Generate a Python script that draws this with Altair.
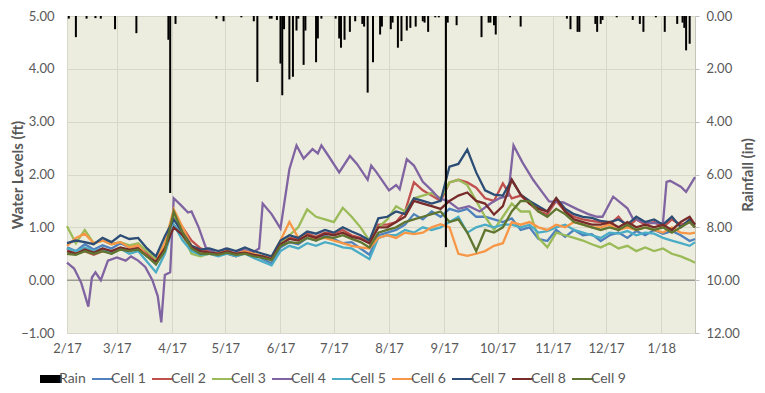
import altair as alt
import pandas as pd

START = pd.Timestamp("2017-02-01")

# day offsets from Feb 1, 2017 for the common sampling of cells
grid_days = list(range(0, 351, 5)) + [353]

cell1 = [0.62, 0.55, 0.68, 0.58, 0.66, 0.60, 0.70, 0.62, 0.65, 0.48, 0.30, 0.60,
         1.05, 0.85, 0.60, 0.50, 0.55, 0.50,
         0.55, 0.48, 0.56, 0.50, 0.40, 0.32,
         0.62, 0.72, 0.68, 0.80, 0.75, 0.85,
         0.78, 0.70, 0.72, 0.60, 0.48, 0.85,
         0.90, 0.95, 1.05, 1.25, 1.15, 1.30,
         1.20, 1.35, 1.30, 1.35, 1.20, 1.20,
         1.15, 1.10, 1.17, 0.95, 1.00, 0.78,
         0.74, 0.95, 0.82, 0.95, 0.85, 0.87,
         0.74, 0.85, 0.90, 0.80, 0.93, 0.85,
         0.95, 0.88, 0.93, 0.85, 0.74, 0.78]
cell2 = [0.60, 0.50, 0.55, 0.48, 0.55, 0.52, 0.60, 0.55, 0.62, 0.50, 0.40, 0.65,
         1.20, 1.00, 0.75, 0.60, 0.55, 0.50,
         0.50, 0.45, 0.52, 0.48, 0.45, 0.40,
         0.70, 0.80, 0.78, 0.88, 0.82, 0.90,
         0.88, 0.95, 0.85, 0.80, 0.70, 1.05,
         1.05, 1.10, 1.30, 1.85, 1.70, 1.60,
         1.50, 1.85, 1.90, 1.85, 1.75, 1.55,
         1.50, 1.83, 1.55, 1.60, 1.45, 1.30,
         1.25, 1.50, 1.30, 1.20, 1.15, 1.12,
         1.10, 1.05, 1.20, 1.00, 1.15, 1.05,
         1.10, 1.00, 1.15, 1.05, 1.10, 1.00]
cell3 = [1.02, 0.70, 0.95, 0.70, 0.75, 0.68, 0.72, 0.66, 0.70, 0.55, 0.40, 0.70,
         1.25, 0.85, 0.50, 0.45, 0.50, 0.48,
         0.52, 0.50, 0.55, 0.50, 0.45, 0.40,
         0.70, 0.85, 1.00, 1.34, 1.20, 1.15,
         1.10, 1.37, 1.20, 1.00, 0.75, 1.00,
         1.15, 1.40, 1.30, 1.55, 1.60, 1.65,
         1.55, 1.85, 1.90, 1.80, 1.50, 1.20,
         0.95, 1.20, 1.45, 1.30, 1.30, 0.80,
         0.62, 0.90, 0.85, 0.80, 0.75, 0.68,
         0.62, 0.70, 0.60, 0.65, 0.55, 0.62,
         0.55, 0.60, 0.50, 0.45, 0.38, 0.33]
cell5 = [0.60, 0.55, 0.62, 0.55, 0.60, 0.50, 0.60, 0.50, 0.55, 0.35, 0.15, 0.50,
         1.05, 0.75, 0.55, 0.48, 0.50, 0.45,
         0.50, 0.45, 0.50, 0.42, 0.35, 0.28,
         0.55, 0.65, 0.60, 0.70, 0.65, 0.72,
         0.68, 0.62, 0.60, 0.50, 0.40, 0.80,
         0.85, 0.85, 0.95, 0.90, 1.00, 0.95,
         1.00, 1.10, 1.20, 0.90, 1.00, 1.05,
         1.00, 1.05, 1.05, 1.00, 1.05, 0.90,
         0.93, 1.00, 1.05, 0.95, 0.90, 0.85,
         0.80, 0.90, 0.88, 0.93, 0.85, 0.90,
         0.88, 0.80, 0.75, 0.70, 0.65, 0.72]
cell6 = [0.65, 0.80, 0.88, 0.70, 0.75, 0.68, 0.72, 0.62, 0.66, 0.45, 0.35, 0.70,
         1.34, 1.00, 0.65, 0.55, 0.50, 0.52,
         0.55, 0.50, 0.55, 0.50, 0.45, 0.42,
         0.75, 1.10, 0.80, 0.85, 0.78, 0.80,
         0.75, 0.70, 0.65, 0.62, 0.60, 0.80,
         0.85, 0.80, 0.90, 0.87, 0.90, 1.00,
         1.06, 1.00, 0.50, 0.46, 0.50, 0.55,
         0.65, 0.70, 1.10, 1.05, 1.10, 1.00,
         0.95, 1.05, 1.00, 1.10, 1.05, 1.00,
         1.00, 1.05, 0.95, 1.00, 0.95, 1.00,
         0.95, 0.90, 1.00, 0.90, 0.88, 0.90]
cell7 = [0.70, 0.75, 0.72, 0.68, 0.80, 0.72, 0.85, 0.78, 0.80, 0.60, 0.45, 0.83,
         1.15, 0.90, 0.65, 0.58, 0.60, 0.55,
         0.60, 0.55, 0.62, 0.55, 0.50, 0.45,
         0.75, 0.85, 0.80, 0.92, 0.88, 0.95,
         0.90, 1.00, 0.92, 0.85, 0.75, 1.17,
         1.20, 1.30, 1.25, 1.55, 1.50, 1.45,
         1.50, 2.15, 2.20, 2.47, 2.04, 1.70,
         1.62, 1.60, 1.90, 1.62, 1.50, 1.40,
         1.30, 1.55, 1.35, 1.25, 1.20, 1.18,
         1.12, 1.10, 1.15, 1.05, 1.20, 1.10,
         1.15, 1.05, 1.20, 1.00, 1.15, 1.05]
cell8 = [0.55, 0.50, 0.58, 0.52, 0.60, 0.55, 0.62, 0.58, 0.60, 0.45, 0.35, 0.60,
         1.00, 0.85, 0.62, 0.55, 0.52, 0.50,
         0.55, 0.50, 0.52, 0.48, 0.45, 0.40,
         0.68, 0.78, 0.75, 0.85, 0.80, 0.88,
         0.85, 0.90, 0.82, 0.78, 0.70, 1.00,
         1.00, 1.10, 1.20, 1.50, 1.45, 1.40,
         1.35, 1.50, 1.60, 1.66, 1.50, 1.45,
         1.24, 1.40, 1.90, 1.62, 1.45, 1.35,
         1.30, 1.55, 1.30, 1.15, 1.10, 1.05,
         1.05, 1.10, 1.00, 1.10, 1.00, 1.05,
         1.00, 1.05, 0.95, 1.10, 1.20, 1.05]
cell9 = [0.50, 0.48, 0.55, 0.50, 0.55, 0.50, 0.58, 0.55, 0.58, 0.45, 0.30, 0.55,
         1.30, 0.90, 0.60, 0.50, 0.50, 0.48,
         0.52, 0.48, 0.50, 0.45, 0.42, 0.38,
         0.65, 0.72, 0.70, 0.80, 0.75, 0.82,
         0.80, 0.85, 0.78, 0.72, 0.62, 0.90,
         0.95, 1.00, 1.10, 1.15, 1.20, 1.25,
         1.30, 1.10, 1.15, 0.90, 0.55, 0.95,
         0.90, 1.00, 1.30, 1.50, 1.49, 1.30,
         1.20, 1.35, 1.25, 1.10, 1.05, 1.00,
         0.95, 1.00, 0.95, 1.05, 0.95, 1.00,
         0.95, 1.00, 0.90, 1.00, 1.10, 1.00]

# Cell 4 has sharper swings, sampled on its own days
cell4_days = [0, 4, 8, 12, 14, 16, 19, 23, 28, 33, 36, 40, 44, 48, 51, 53, 55, 58,
              60, 64, 68, 70, 74, 78, 84, 89, 94, 99, 104, 108, 110, 115, 120,
              125, 129, 133, 138, 141, 143, 147, 153, 159, 163, 169, 171, 174,
              181, 185, 187, 191, 195, 200, 205, 209, 214, 220, 226, 232, 238,
              243, 248, 251, 256, 262, 267, 271, 279, 287, 293, 298, 301, 307,
              315, 318, 324, 329, 335, 337, 339, 345, 348, 353]
cell4 = [0.33, 0.22, -0.05, -0.50, 0.05, 0.15, 0.00, 0.37, 0.43, 0.37, 0.45, 0.37,
         0.25, 0.00, -0.30, -0.80, 0.10, 0.15,
         1.55, 1.42, 1.28, 1.30, 1.00, 0.62, 0.50, 0.60, 0.50, 0.58, 0.52, 0.60,
         1.45, 1.25, 0.98,
         2.10, 2.55, 2.30, 2.48, 2.40, 2.55, 2.35, 2.04, 2.35, 2.20, 1.90, 2.17, 2.04,
         1.70, 1.80, 1.72, 2.29, 2.17, 1.86, 1.70, 1.55, 1.50, 1.35, 1.40, 1.30, 1.45,
         1.55, 1.60, 2.55, 2.23, 1.90, 1.67, 1.49, 1.47, 1.34, 1.25, 1.20, 1.20, 1.58,
         1.36, 1.17, 1.10, 1.08, 1.08, 1.86, 1.88, 1.77, 1.67, 1.95]

rain_days = [1, 5, 11, 16, 19, 27, 39, 57, 58, 61, 84, 88, 98, 105, 107, 114, 115, 118,
             120, 121, 122, 125, 127, 129, 130, 133, 134, 140, 141, 143, 151, 153,
             154, 156, 159, 162, 166, 167, 169, 172, 176, 177, 182, 183, 186, 188,
             191, 193, 196, 200, 201, 203, 207, 209, 213, 214, 219, 233, 237, 238,
             240, 241, 249, 255, 281, 283, 287, 288, 297, 298, 300, 301, 309, 318,
             322, 324, 331, 336, 343, 346, 347, 348, 350]
rain_in = [0.10, 0.80, 0.10, 0.08, 0.10, 0.50, 0.65, 0.90, 6.70, 0.30, 0.10, 0.20,
           0.05, 0.20, 2.50, 0.10, 0.10, 0.15,
           1.80, 3.00, 0.50, 2.40, 2.30, 0.55, 0.10, 1.85, 0.55, 1.75, 0.85, 0.10,
           0.10, 0.85, 1.20, 0.90, 0.60, 0.20, 0.30, 0.40, 2.90, 1.75, 0.70, 0.40,
           0.50, 0.25, 1.20, 0.95, 0.55, 0.45, 0.40, 0.20, 0.25, 0.60, 0.05, 0.05,
           8.75, 0.25, 0.35, 0.80, 0.25, 0.25, 0.35, 0.70, 0.05, 0.40,
           0.10, 0.50, 0.60, 0.60, 0.30, 0.60, 0.30, 0.15, 0.05, 0.15, 0.30, 0.60,
           0.05, 0.60, 0.30, 0.25, 0.45, 1.30, 1.05]

series_names = ["Rain", "Cell 1", "Cell 2", "Cell 3", "Cell 4", "Cell 5",
                "Cell 6", "Cell 7", "Cell 8", "Cell 9"]
series_colors = ["#000000", "#4F81BD", "#C0504D", "#9BBB59", "#8064A2", "#4BACC6",
                 "#F79646", "#2C4D75", "#772C2A", "#5F7530"]

TEXT = "#595959"
FONT = "Lato"

rows = []
grid_cells = {"Cell 1": cell1, "Cell 2": cell2, "Cell 3": cell3, "Cell 5": cell5,
              "Cell 6": cell6, "Cell 7": cell7, "Cell 8": cell8, "Cell 9": cell9}
for name in series_names[1:]:
    if name == "Cell 4":
        days, vals = cell4_days, cell4
    else:
        days, vals = grid_days, grid_cells[name]
    for d, v in zip(days, vals):
        rows.append({"date": START + pd.Timedelta(days=d), "level": v, "series": name})
lines_df = pd.DataFrame(rows)

rain_df = pd.DataFrame({
    "date": [START + pd.Timedelta(days=d) for d in rain_days],
    "rain": rain_in,
    "series": "Rain",
})
zero_df = pd.DataFrame({"level": [0.0]})

month_ticks = [alt.DateTime(year=2017, month=m, date=1) for m in range(2, 13)] + \
              [alt.DateTime(year=2018, month=1, date=1)]
x_scale = alt.Scale(domain=[alt.DateTime(year=2017, month=2, date=1),
                            alt.DateTime(year=2018, month=1, date=20)])
x_axis = alt.Axis(values=month_ticks, format="%-m/%y", grid=True,
                  gridColor="#d8d8ca", ticks=False, domain=False, labelFlush=False,
                  labelPadding=9, labelFontSize=13, labelColor=TEXT, labelFont=FONT)

ft_scale = alt.Scale(domain=[-1, 5], nice=False)
ft_axis = alt.Axis(values=[-1, 0, 1, 2, 3, 4, 5], format=".2f", grid=True,
                   gridColor="#d8d8ca", ticks=False, domain=False, labelFlush=False,
                   labelPadding=13, labelFontSize=13, labelColor=TEXT,
                   labelFont=FONT, titleFontSize=15, titleFontWeight="bold",
                   titleColor=TEXT, titleFont=FONT, titleX=-42)
color_scale = alt.Scale(domain=series_names, range=series_colors)

zero_rule = alt.Chart(zero_df).mark_rule(color="#9a9a92", strokeWidth=1.5).encode(
    y=alt.Y("level:Q", scale=ft_scale, axis=ft_axis, title="Water Levels (ft)")
)

lines = alt.Chart(lines_df).mark_line(strokeWidth=2.3).encode(
    x=alt.X("date:T", scale=x_scale, axis=x_axis, title=None),
    y=alt.Y("level:Q", scale=ft_scale, axis=ft_axis, title="Water Levels (ft)"),
    color=alt.Color("series:N", scale=color_scale, title=None,
                    legend=alt.Legend(
                        orient="none", legendX=-27, legendY=355,
                        direction="horizontal", columns=10, symbolType="stroke",
                        symbolSize=841, clipHeight=16,
                        symbolStrokeWidth={"expr": "datum.value === 'Rain' ? 8 : 2"},
                        labelFontSize=14, labelColor=TEXT, labelFont=FONT,
                        labelOffset=5, columnPadding=6)),
    detail="series:N",
)

left = alt.layer(zero_rule, lines)

rain = alt.Chart(rain_df).mark_rule(strokeWidth=2).encode(
    x=alt.X("date:T", scale=x_scale, axis=x_axis, title=None),
    y=alt.Y("rain:Q", scale=alt.Scale(domain=[0, 12], reverse=True, nice=False),
            title="Rainfall (in)",
            axis=alt.Axis(orient="right", values=[0, 2, 4, 6, 8, 10, 12], format=".2f",
                          grid=False, ticks=True, tickSize=4, tickColor="#bfbfbf",
                          domain=False, labelFlush=False, labelPadding=7,
                          labelFontSize=13, labelColor=TEXT, labelFont=FONT,
                          titleFontSize=15, titleFontWeight="bold", titleColor=TEXT,
                          titleFont=FONT, titleAngle=270, titlePadding=16)),
    y2=alt.datum(0),
    color=alt.Color("series:N", scale=color_scale),
)

chart = alt.layer(left, rain).resolve_scale(y="independent").properties(
    width=628, height=317,
    autosize=alt.AutoSizeParams(type="none"),
    padding={"left": 59, "top": 8, "right": 62, "bottom": 52},
    background="white",
).configure_view(fill="#EDEDDF", stroke="#c4c4ba")

chart.save("out.html", embed_options={"renderer": "svg", "actions": False})
